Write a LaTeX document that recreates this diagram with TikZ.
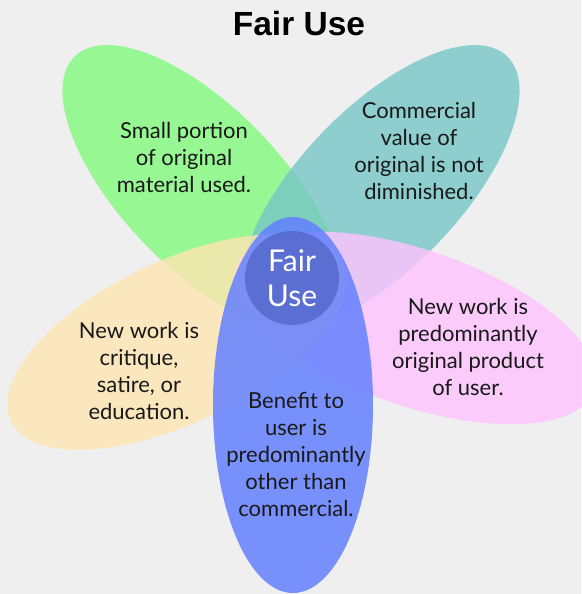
\documentclass[tikz,border=0pt]{standalone}
\usepackage{fontspec}
\setmainfont{Lato}
\newfontfamily\titlefont{Liberation Sans}
\usepackage{tikz}
\definecolor{PageGray}{HTML}{EFEFEF}
\definecolor{PetalGreen}{HTML}{82FA7D}
\definecolor{PetalTeal}{HTML}{76C6C6}
\definecolor{PetalPink}{HTML}{FFC3FF}
\definecolor{PetalSand}{HTML}{FFE6B2}
\definecolor{PetalBlue}{HTML}{6480FF}
\definecolor{HubBlue}{HTML}{5466C8}
\tikzset{
  % Petal styles
  petal/.style={draw=none, fill opacity=0.8},
  hub/.style={circle, minimum size=94pt, inner sep=0pt, fill=HubBlue, fill opacity=0.8, text opacity=1},
  % Text styles
  petaltext/.style={align=center, text=black!90, font=\fontsize{22}{27}\selectfont},
  hubtext/.style={align=center, text=white, font=\fontsize{30}{35}\selectfont},
  titletext/.style={font=\titlefont\bfseries\fontsize{33.5}{40}\selectfont}
}

\begin{document}
\begin{tikzpicture}[x=1pt, y=-1pt]
  \useasboundingbox[fill=PageGray] (0,0) rectangle (581,594);

  % petals
  \fill[petal, PetalGreen, rotate around={134:(202,188)}] (202,188) ellipse [x radius=183, y radius=80];
  \fill[petal, PetalTeal, rotate around={46:(380,188)}] (380,188) ellipse [x radius=183, y radius=80];
  \fill[petal, PetalPink, rotate around={-19:(415,328)}] (415,328) ellipse [x radius=190, y radius=78];
  \fill[petal, PetalSand, rotate around={25.5:(177,342)}] (177,342) ellipse [x radius=184, y radius=81];
  \fill[petal, PetalBlue, fill opacity=0.85] (293,405) ellipse [x radius=80, y radius=188];

  \node[hub, hubtext] (hub) at (292,278) {Fair\\Use};

  \node[titletext] (title) at (299,24) {Fair Use};

  \node[petaltext] (portion) at (184,157) {Small portion\\of original\\material used.};
  \node[petaltext] (value) at (419,151) {Commercial\\value of\\original is not\\diminished.};
  \node[petaltext] (product) at (468,347) {New work is\\predominantly\\original product\\of user.};
  \node[petaltext] (critique) at (139,371) {New work is\\critique,\\satire, or\\education.};
  \node[petaltext] (benefit) at (296,454) {Benefit to\\user is\\predominantly\\other than\\commercial.};
\end{tikzpicture}
\end{document}
